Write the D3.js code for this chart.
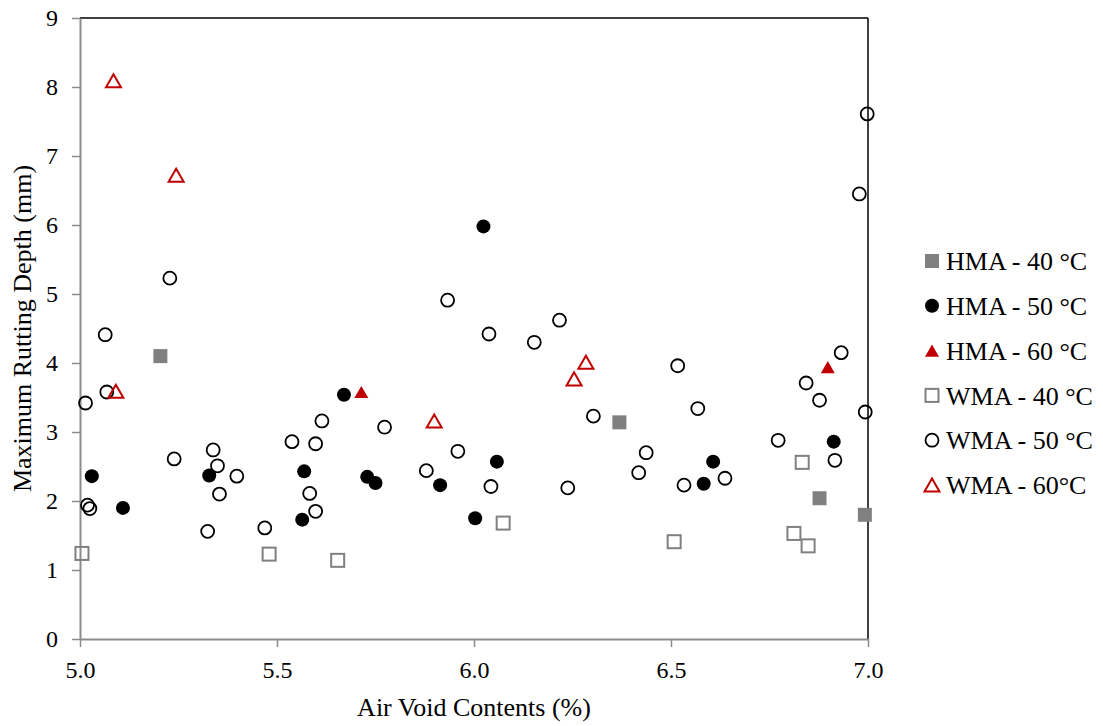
<!DOCTYPE html>
<html>
<head>
<meta charset="utf-8">
<script src="https://cdn.jsdelivr.net/npm/d3@7"></script>
<style>
  html, body { margin: 0; padding: 0; background: #fff; }
  svg text { font-family: "Liberation Serif", "Times New Roman", serif; fill: #000; }
</style>
</head>
<body>
<svg id="chart" width="1103" height="726"></svg>
<script>
// ---- data ----
const seriesNames = ["HMA - 40 °C", "HMA - 50 °C", "HMA - 60 °C", "WMA - 40 °C", "WMA - 50 °C", "WMA - 60°C"];

const hma40X = [5.204, 6.369, 6.877, 6.992];
const hma40Y = [4.10, 3.14, 2.04, 1.80];

const hma50X = [5.030, 5.109, 5.328, 5.569, 5.564, 5.670, 5.729, 5.750, 5.914, 6.003, 6.024, 6.058, 6.583, 6.607, 6.913];
const hma50Y = [2.36, 1.90, 2.37, 2.43, 1.73, 3.54, 2.35, 2.26, 2.23, 1.75, 5.98, 2.57, 2.25, 2.57, 2.86];

const hma60X = [5.714, 6.898];
const hma60Y = [3.58, 3.94];

const wma40X = [5.005, 5.480, 5.654, 6.074, 6.508, 6.812, 6.833, 6.848];
const wma40Y = [1.24, 1.23, 1.14, 1.68, 1.41, 1.53, 2.56, 1.35];

const wma50X = [5.228, 5.064, 5.068, 5.014, 5.614, 5.538, 5.598, 5.239, 5.338, 5.349, 5.398, 5.354, 5.583, 5.019, 5.025, 5.598, 5.324, 5.469,
                5.933, 6.038, 6.153, 6.217, 5.773, 6.303, 5.959, 5.879, 6.043, 6.238,
                6.998, 6.978, 6.932, 6.843, 6.877, 6.517, 6.568, 6.993, 6.772, 6.437, 6.418, 6.916, 6.637, 6.533];
const wma50Y = [5.23, 4.41, 3.58, 3.42, 3.16, 2.86, 2.83, 2.61, 2.74, 2.51, 2.36, 2.10, 2.11, 1.94, 1.89, 1.85, 1.56, 1.61,
                4.91, 4.42, 4.30, 4.62, 3.07, 3.23, 2.72, 2.44, 2.21, 2.19,
                7.61, 6.45, 4.15, 3.71, 3.46, 3.96, 3.34, 3.29, 2.88, 2.70, 2.41, 2.59, 2.33, 2.23];

const wma60X = [5.085, 5.244, 5.091, 5.899, 6.254, 6.284];
const wma60Y = [8.09, 6.72, 3.59, 3.16, 3.77, 4.01];

const xTicks = [5.0, 5.5, 6.0, 6.5, 7.0];
const yTicks = [0, 1, 2, 3, 4, 5, 6, 7, 8, 9];

const xTitle = "Air Void Contents (%)";
const yTitle = "Maximum Rutting Depth (mm)";

// ---- layout ----
const svg = d3.select("#chart");
const pLeft = 80, pRight = 868, pTop = 18, pBottom = 639;

const x = d3.scaleLinear().domain([5, 7]).range([pLeft, pRight]);
const y = d3.scaleLinear().domain([0, 9]).range([pBottom, pTop]);

const RED = "#c00000", GRAY = "#808080";

// frame: top & right black
svg.append("line").attr("x1", pLeft).attr("x2", pRight).attr("y1", pTop).attr("y2", pTop)
  .attr("stroke", "#000").attr("stroke-width", 1.5);
svg.append("line").attr("x1", pRight).attr("x2", pRight).attr("y1", pTop).attr("y2", pBottom)
  .attr("stroke", "#000").attr("stroke-width", 1.5);

// axes
const xAxis = d3.axisBottom(x).tickValues(xTicks).tickFormat(d3.format(".1f")).tickSizeInner(8).tickSizeOuter(0).tickPadding(8);
const gx = svg.append("g").attr("transform", `translate(0,${pBottom})`).call(xAxis);
gx.select(".domain").attr("stroke", "#8c8c8c").attr("stroke-width", 2);
gx.selectAll(".tick line").attr("stroke", "#8c8c8c").attr("stroke-width", 1.5);
gx.selectAll(".tick text").attr("font-family", "Liberation Serif").attr("font-size", 24).attr("fill", "#000").attr("dy", "0.95em");

const yAxis = d3.axisLeft(y).tickValues(yTicks).tickFormat(d3.format("d")).tickSizeInner(8).tickSizeOuter(0).tickPadding(14);
const gy = svg.append("g").attr("transform", `translate(${pLeft},0)`).call(yAxis);
gy.select(".domain").attr("stroke", "#8c8c8c").attr("stroke-width", 2);
gy.selectAll(".tick line").attr("stroke", "#8c8c8c").attr("stroke-width", 1.5);
gy.selectAll(".tick text").attr("font-family", "Liberation Serif").attr("font-size", 24).attr("fill", "#000");

// axis titles
svg.append("text").attr("x", (pLeft + pRight) / 2).attr("y", 716).attr("text-anchor", "middle")
  .attr("font-size", 26).text(xTitle);
svg.append("text").attr("transform", `translate(31,${(pTop + pBottom) / 2}) rotate(-90)`).attr("text-anchor", "middle")
  .attr("font-size", 26).text(yTitle);

// marker drawers
function triPath(s) {
  const h = s * 0.87;
  return `M0,${-h / 2}L${s / 2},${h / 2}L${-s / 2},${h / 2}Z`;
}
const markers = [
  { xs: hma40X, ys: hma40Y, draw: g => g.append("rect").attr("x", -7).attr("y", -7).attr("width", 14).attr("height", 14).attr("fill", GRAY) },
  { xs: hma50X, ys: hma50Y, draw: g => g.append("circle").attr("r", 7).attr("fill", "#000") },
  { xs: hma60X, ys: hma60Y, draw: g => g.append("path").attr("d", triPath(14)).attr("fill", RED) },
  { xs: wma40X, ys: wma40Y, draw: g => g.append("rect").attr("x", -6.5).attr("y", -6.5).attr("width", 13).attr("height", 13).attr("fill", "none").attr("stroke", GRAY).attr("stroke-width", 2) },
  { xs: wma50X, ys: wma50Y, draw: g => g.append("circle").attr("r", 6.5).attr("fill", "none").attr("stroke", "#000").attr("stroke-width", 1.8) },
  { xs: wma60X, ys: wma60Y, draw: g => g.append("path").attr("d", triPath(15)).attr("fill", "none").attr("stroke", RED).attr("stroke-width", 2) }
];

markers.forEach(m => {
  const pts = m.xs.map((v, k) => [v, m.ys[k]]);
  svg.append("g").selectAll("g").data(pts).join("g")
    .attr("transform", d => `translate(${x(d[0])},${y(d[1])})`)
    .each(function () { m.draw(d3.select(this)); });
});

// legend
const legY0 = 261, legStep = 44.8, legMX = 932, legTX = 946;
seriesNames.forEach((name, i) => {
  const g = svg.append("g").attr("transform", `translate(${legMX},${legY0 + i * legStep})`);
  markers[i].draw(g);
  svg.append("text").attr("x", legTX).attr("y", legY0 + i * legStep).attr("dy", "0.35em")
    .attr("font-size", 26).text(name);
});
</script>
</body>
</html>
